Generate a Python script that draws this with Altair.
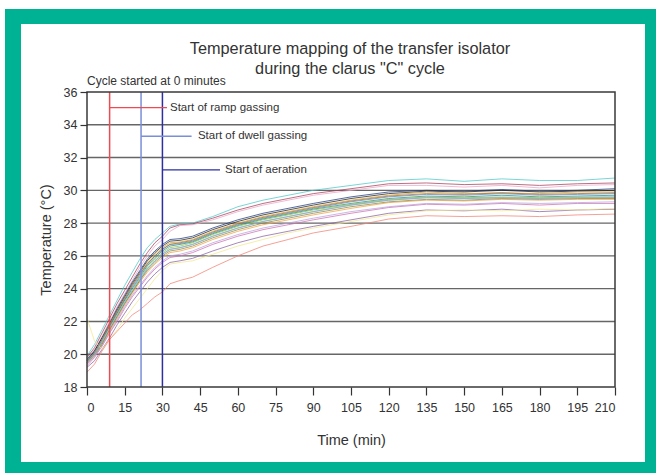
import altair as alt
import pandas as pd

# ---------------- data ----------------
TIME = [0, 3, 6, 9, 12, 15, 18, 21, 24, 27, 30, 33, 37, 42, 50, 60, 70, 80, 90,
        105, 120, 135, 150, 165, 180, 195, 210]

P01 = [19.9, 20.6, 21.5, 22.4, 23.3, 24.2, 25.0, 25.8, 26.5, 27.0, 27.4, 27.8, 27.95, 28.0, 28.4, 29.0, 29.4, 29.7, 30.0, 30.3, 30.6, 30.7, 30.55, 30.7, 30.6, 30.6, 30.75]
P02 = [19.8, 20.4, 21.3, 22.2, 23.1, 23.9, 24.7, 25.5, 26.2, 26.8, 27.2, 27.7, 27.9, 27.95, 28.3, 28.8, 29.2, 29.5, 29.8, 30.1, 30.4, 30.45, 30.35, 30.4, 30.3, 30.4, 30.45]
P03 = [19.7, 20.3, 21.1, 22.0, 22.9, 23.7, 24.5, 25.3, 26.0, 26.6, 27.0, 27.5, 27.85, 27.9, 28.2, 28.7, 29.1, 29.4, 29.7, 30.0, 30.3, 30.3, 30.2, 30.3, 30.15, 30.3, 30.35]
P04 = [19.6, 20.2, 21.0, 21.9, 22.8, 23.6, 24.4, 25.1, 25.8, 26.3, 26.7, 27.0, 27.05, 27.2, 27.7, 28.2, 28.6, 28.9, 29.2, 29.6, 29.9, 30.0, 29.95, 30.05, 29.95, 30.0, 30.1]
P05 = [19.7, 20.2, 21.0, 21.8, 22.7, 23.5, 24.3, 25.0, 25.7, 26.2, 26.6, 26.9, 26.95, 27.1, 27.6, 28.1, 28.5, 28.8, 29.1, 29.5, 29.8, 29.95, 29.9, 30.0, 29.9, 29.95, 30.0]
P06 = [19.6, 20.1, 20.9, 21.8, 22.6, 23.4, 24.2, 24.9, 25.6, 26.1, 26.5, 26.8, 26.85, 27.0, 27.5, 28.0, 28.4, 28.7, 29.0, 29.4, 29.7, 29.9, 29.8, 29.85, 29.8, 29.9, 29.9]
P07 = [19.7, 20.1, 20.9, 21.7, 22.5, 23.3, 24.1, 24.8, 25.5, 26.0, 26.4, 26.7, 26.75, 26.9, 27.4, 27.9, 28.3, 28.6, 28.9, 29.3, 29.6, 29.75, 29.7, 29.8, 29.7, 29.75, 29.8]
P08 = [19.6, 20.0, 20.8, 21.7, 22.5, 23.3, 24.0, 24.7, 25.4, 25.9, 26.3, 26.6, 26.7, 26.85, 27.35, 27.85, 28.25, 28.55, 28.85, 29.2, 29.5, 29.65, 29.6, 29.7, 29.6, 29.65, 29.7]
P09 = [19.5, 20.0, 20.7, 21.6, 22.4, 23.2, 23.9, 24.6, 25.3, 25.8, 26.2, 26.5, 26.6, 26.8, 27.3, 27.8, 28.2, 28.5, 28.8, 29.15, 29.45, 29.6, 29.55, 29.6, 29.55, 29.6, 29.6]
P10 = [19.6, 20.0, 20.7, 21.5, 22.3, 23.1, 23.8, 24.5, 25.2, 25.7, 26.1, 26.4, 26.5, 26.7, 27.2, 27.7, 28.1, 28.4, 28.7, 29.1, 29.4, 29.55, 29.5, 29.55, 29.5, 29.55, 29.55]
P11 = [19.4, 19.9, 20.6, 21.4, 22.2, 23.0, 23.7, 24.4, 25.0, 25.5, 25.9, 26.2, 26.3, 26.5, 27.0, 27.5, 27.9, 28.2, 28.5, 28.9, 29.25, 29.4, 29.35, 29.45, 29.4, 29.45, 29.45]
P12 = [19.5, 19.9, 20.6, 21.5, 22.3, 23.1, 23.8, 24.5, 25.1, 25.6, 26.0, 26.3, 26.4, 26.6, 27.1, 27.6, 28.0, 28.3, 28.6, 29.0, 29.3, 29.45, 29.4, 29.5, 29.45, 29.5, 29.5]
P13 = [19.3, 19.8, 20.5, 21.3, 22.0, 22.8, 23.5, 24.1, 24.7, 25.2, 25.6, 25.9, 26.0, 26.2, 26.7, 27.2, 27.6, 27.9, 28.2, 28.6, 28.95, 29.15, 29.1, 29.2, 29.1, 29.2, 29.2]
P14 = [19.4, 19.9, 20.5, 21.3, 22.1, 22.9, 23.6, 24.2, 24.8, 25.3, 25.7, 26.0, 26.1, 26.3, 26.8, 27.3, 27.7, 28.0, 28.3, 28.7, 29.0, 29.2, 29.15, 29.25, 29.2, 29.25, 29.3]
P15 = [19.2, 19.6, 20.3, 21.0, 21.8, 22.5, 23.2, 23.8, 24.4, 24.9, 25.3, 25.6, 25.7, 25.85, 26.3, 26.8, 27.2, 27.5, 27.8, 28.2, 28.6, 28.8, 28.75, 28.85, 28.7, 28.8, 28.85]
P16 = [22.2, 20.8, 20.3, 20.9, 21.5, 22.2, 22.8, 23.4, 24.0, 24.6, 25.1, 25.5, 25.6, 25.7, 26.1, 26.6, 27.0, 27.4, 27.7, 28.1, 28.5, 28.75, 28.8, 28.75, 28.85, 28.8, 28.9]
P17 = [18.9, 19.4, 20.2, 20.9, 21.4, 21.9, 22.4, 22.7, 23.1, 23.5, 23.8, 24.3, 24.5, 24.7, 25.3, 26.0, 26.6, 27.0, 27.4, 27.8, 28.25, 28.45, 28.4, 28.45, 28.4, 28.5, 28.55]
P18 = [19.5, 20.1, 20.9, 21.8, 22.6, 23.4, 24.2, 24.9, 25.5, 26.0, 26.4, 26.7, 26.8, 26.95, 27.45, 27.95, 28.35, 28.65, 28.95, 29.35, 29.65, 29.8, 29.75, 29.85, 29.75, 29.8, 29.85]
P19 = [19.5, 20.0, 20.8, 21.6, 22.4, 23.2, 23.9, 24.6, 25.2, 25.7, 26.1, 26.4, 26.5, 26.7, 27.2, 27.7, 28.1, 28.4, 28.7, 29.1, 29.4, 29.55, 29.5, 29.55, 29.5, 29.55, 29.6]

PROBE_NAMES = ["P01", "P02", "P03", "P04", "P05", "P06", "P07", "P08", "P09", "P10",
               "P11", "P12", "P13", "P14", "P15", "P16", "P17", "P18", "P19"]
PROBE_VALUES = [P01, P02, P03, P04, P05, P06, P07, P08, P09, P10,
                P11, P12, P13, P14, P15, P16, P17, P18, P19]
PROBE_COLORS = ["#4cc8c8", "#a8405c", "#e8a6c4", "#1f3a80", "#222222", "#d8a420",
                "#5b8fc4", "#2a8a8a", "#8cc63f", "#8c8c8c", "#f4a044", "#8a8a40",
                "#d070b0", "#b4a4dc", "#8a62a4", "#f2e88e", "#f28272", "#a07050",
                "#8ab8e2"]

MARKER_TIMES = [9, 21.5, 30]
MARKER_COLORS = ["#ee4a52", "#7b8ed8", "#2b2f9f"]
LABEL_TEXTS = ["Start of ramp gassing", "Start of dwell gassing", "Start of aeration"]
LABEL_TEMPS = [35.05, 33.3, 31.25]
LABEL_LINE_END = [31.8, 41.6, 52.9]
LABEL_TEXT_X = [33.0, 44.1, 54.9]

GRID_TEMPS = [20, 22, 24, 26, 28, 30, 32, 34]
X_TICKS = list(range(0, 211, 15))
Y_TICKS = list(range(18, 37, 2))

TITLE_LINE_1 = "Temperature mapping of the transfer isolator"
TITLE_LINE_2 = 'during the clarus "C" cycle'
NOTE_TEXT = "Cycle started at 0 minutes"

# ---------------- build tables ----------------
rows = []
for name, vals in zip(PROBE_NAMES, PROBE_VALUES):
    for t, v in zip(TIME, vals):
        rows.append({"probe": name, "time": t, "temp": v})
df = pd.DataFrame(rows)

markers = pd.DataFrame({"time": MARKER_TIMES, "c": MARKER_COLORS})
labels = pd.DataFrame({"time": MARKER_TIMES, "time_end": LABEL_LINE_END,
                       "tx": LABEL_TEXT_X, "temp": LABEL_TEMPS,
                       "label": LABEL_TEXTS, "c": MARKER_COLORS})
grid = pd.DataFrame({"temp": GRID_TEMPS})
note = pd.DataFrame({"time": [0], "temp": [36], "label": [NOTE_TEXT]})
one = pd.DataFrame({"a": [0]})

W, H = 528, 295
FONT = "Liberation Sans"
GREEN = "#00b294"
TXT = "#333333"

xs = alt.Scale(domain=[0, 210], nice=False, zero=False)
ys = alt.Scale(domain=[18, 36], nice=False, zero=False)

X_AXIS = alt.Axis(values=X_TICKS, grid=False, domain=False, tickSize=8,
                  tickColor=TXT, tickWidth=1.2, labelPadding=6,
                  labelFontSize=12.5, labelColor=TXT, labelFont=FONT,
                  labelOverlap=False,
                  titleFont=FONT, titleFontSize=14.5, titleFontWeight="normal",
                  titleColor=TXT, titlePadding=20, zindex=1)
Y_AXIS = alt.Axis(values=Y_TICKS, grid=False, domain=False, tickSize=7,
                  tickColor=TXT, tickWidth=1.2, labelPadding=3,
                  labelFontSize=12.5, labelColor=TXT, labelFont=FONT,
                  labelOverlap=False,
                  titleFont=FONT, titleFontSize=14.5, titleFontWeight="normal",
                  titleColor=TXT, titlePadding=10, zindex=1)


def X(field):
    return alt.X(field, scale=xs, axis=X_AXIS, title="Time (min)")


def Y(field):
    return alt.Y(field, scale=ys, axis=Y_AXIS, title="Temperature (°C)")


green_rect = alt.Chart(one).mark_rect(color=GREEN).encode(
    x=alt.value(-82), x2=alt.value(569), y=alt.value(-83), y2=alt.value(381))
white_rect = alt.Chart(one).mark_rect(color="white").encode(
    x=alt.value(-66), x2=alt.value(558), y=alt.value(-68), y2=alt.value(370))

grid_rules = alt.Chart(grid).mark_rule(color="#666666", strokeWidth=1.4).encode(
    y=Y("temp:Q"))

lines = alt.Chart(df).mark_line(strokeWidth=0.8, opacity=0.95).encode(
    x=X("time:Q"),
    y=Y("temp:Q"),
    color=alt.Color("probe:N", scale=alt.Scale(domain=PROBE_NAMES, range=PROBE_COLORS),
                    legend=None),
)

vrules = alt.Chart(markers).mark_rule(strokeWidth=1.5).encode(
    x=X("time:Q"), color=alt.Color("c:N", scale=None))

hrules = alt.Chart(labels).mark_rule(strokeWidth=1.3).encode(
    x=X("time:Q"), x2="time_end:Q",
    y=Y("temp:Q"), color=alt.Color("c:N", scale=None))

label_text = alt.Chart(labels).mark_text(
    align="left", baseline="middle", fontSize=11.5, font=FONT, color=TXT).encode(
    x=X("tx:Q"), y=Y("temp:Q"), text="label:N")

note_text = alt.Chart(note).mark_text(
    align="left", baseline="bottom", fontSize=12, font=FONT, color=TXT, dy=-4).encode(
    x=X("time:Q"), y=Y("temp:Q"), text="label:N")

title_1 = alt.Chart(one).mark_text(
    align="center", baseline="middle", fontSize=16.3, font=FONT, color=TXT,
    text=TITLE_LINE_1).encode(x=alt.value(W / 2 - 1), y=alt.value(-43))
title_2 = alt.Chart(one).mark_text(
    align="center", baseline="middle", fontSize=16.3, font=FONT, color=TXT,
    text=TITLE_LINE_2).encode(x=alt.value(W / 2 - 1), y=alt.value(-23))

frame = alt.Chart(one).mark_rect(fillOpacity=0, stroke="#3a3a3a", strokeWidth=1.5).encode(
    x=alt.value(0), x2=alt.value(W), y=alt.value(0), y2=alt.value(H))

chart = alt.layer(
    green_rect, white_rect, grid_rules, lines, vrules, hrules, label_text, note_text,
    title_1, title_2, frame
).properties(
    width=W, height=H,
    padding={"left": 87, "top": 92, "right": 41, "bottom": 86},
    autosize=alt.AutoSizeParams(type="none"),
    background="white",
).configure_view(stroke="transparent")

chart.save("out.html", embed_options={"renderer": "svg", "actions": False})
